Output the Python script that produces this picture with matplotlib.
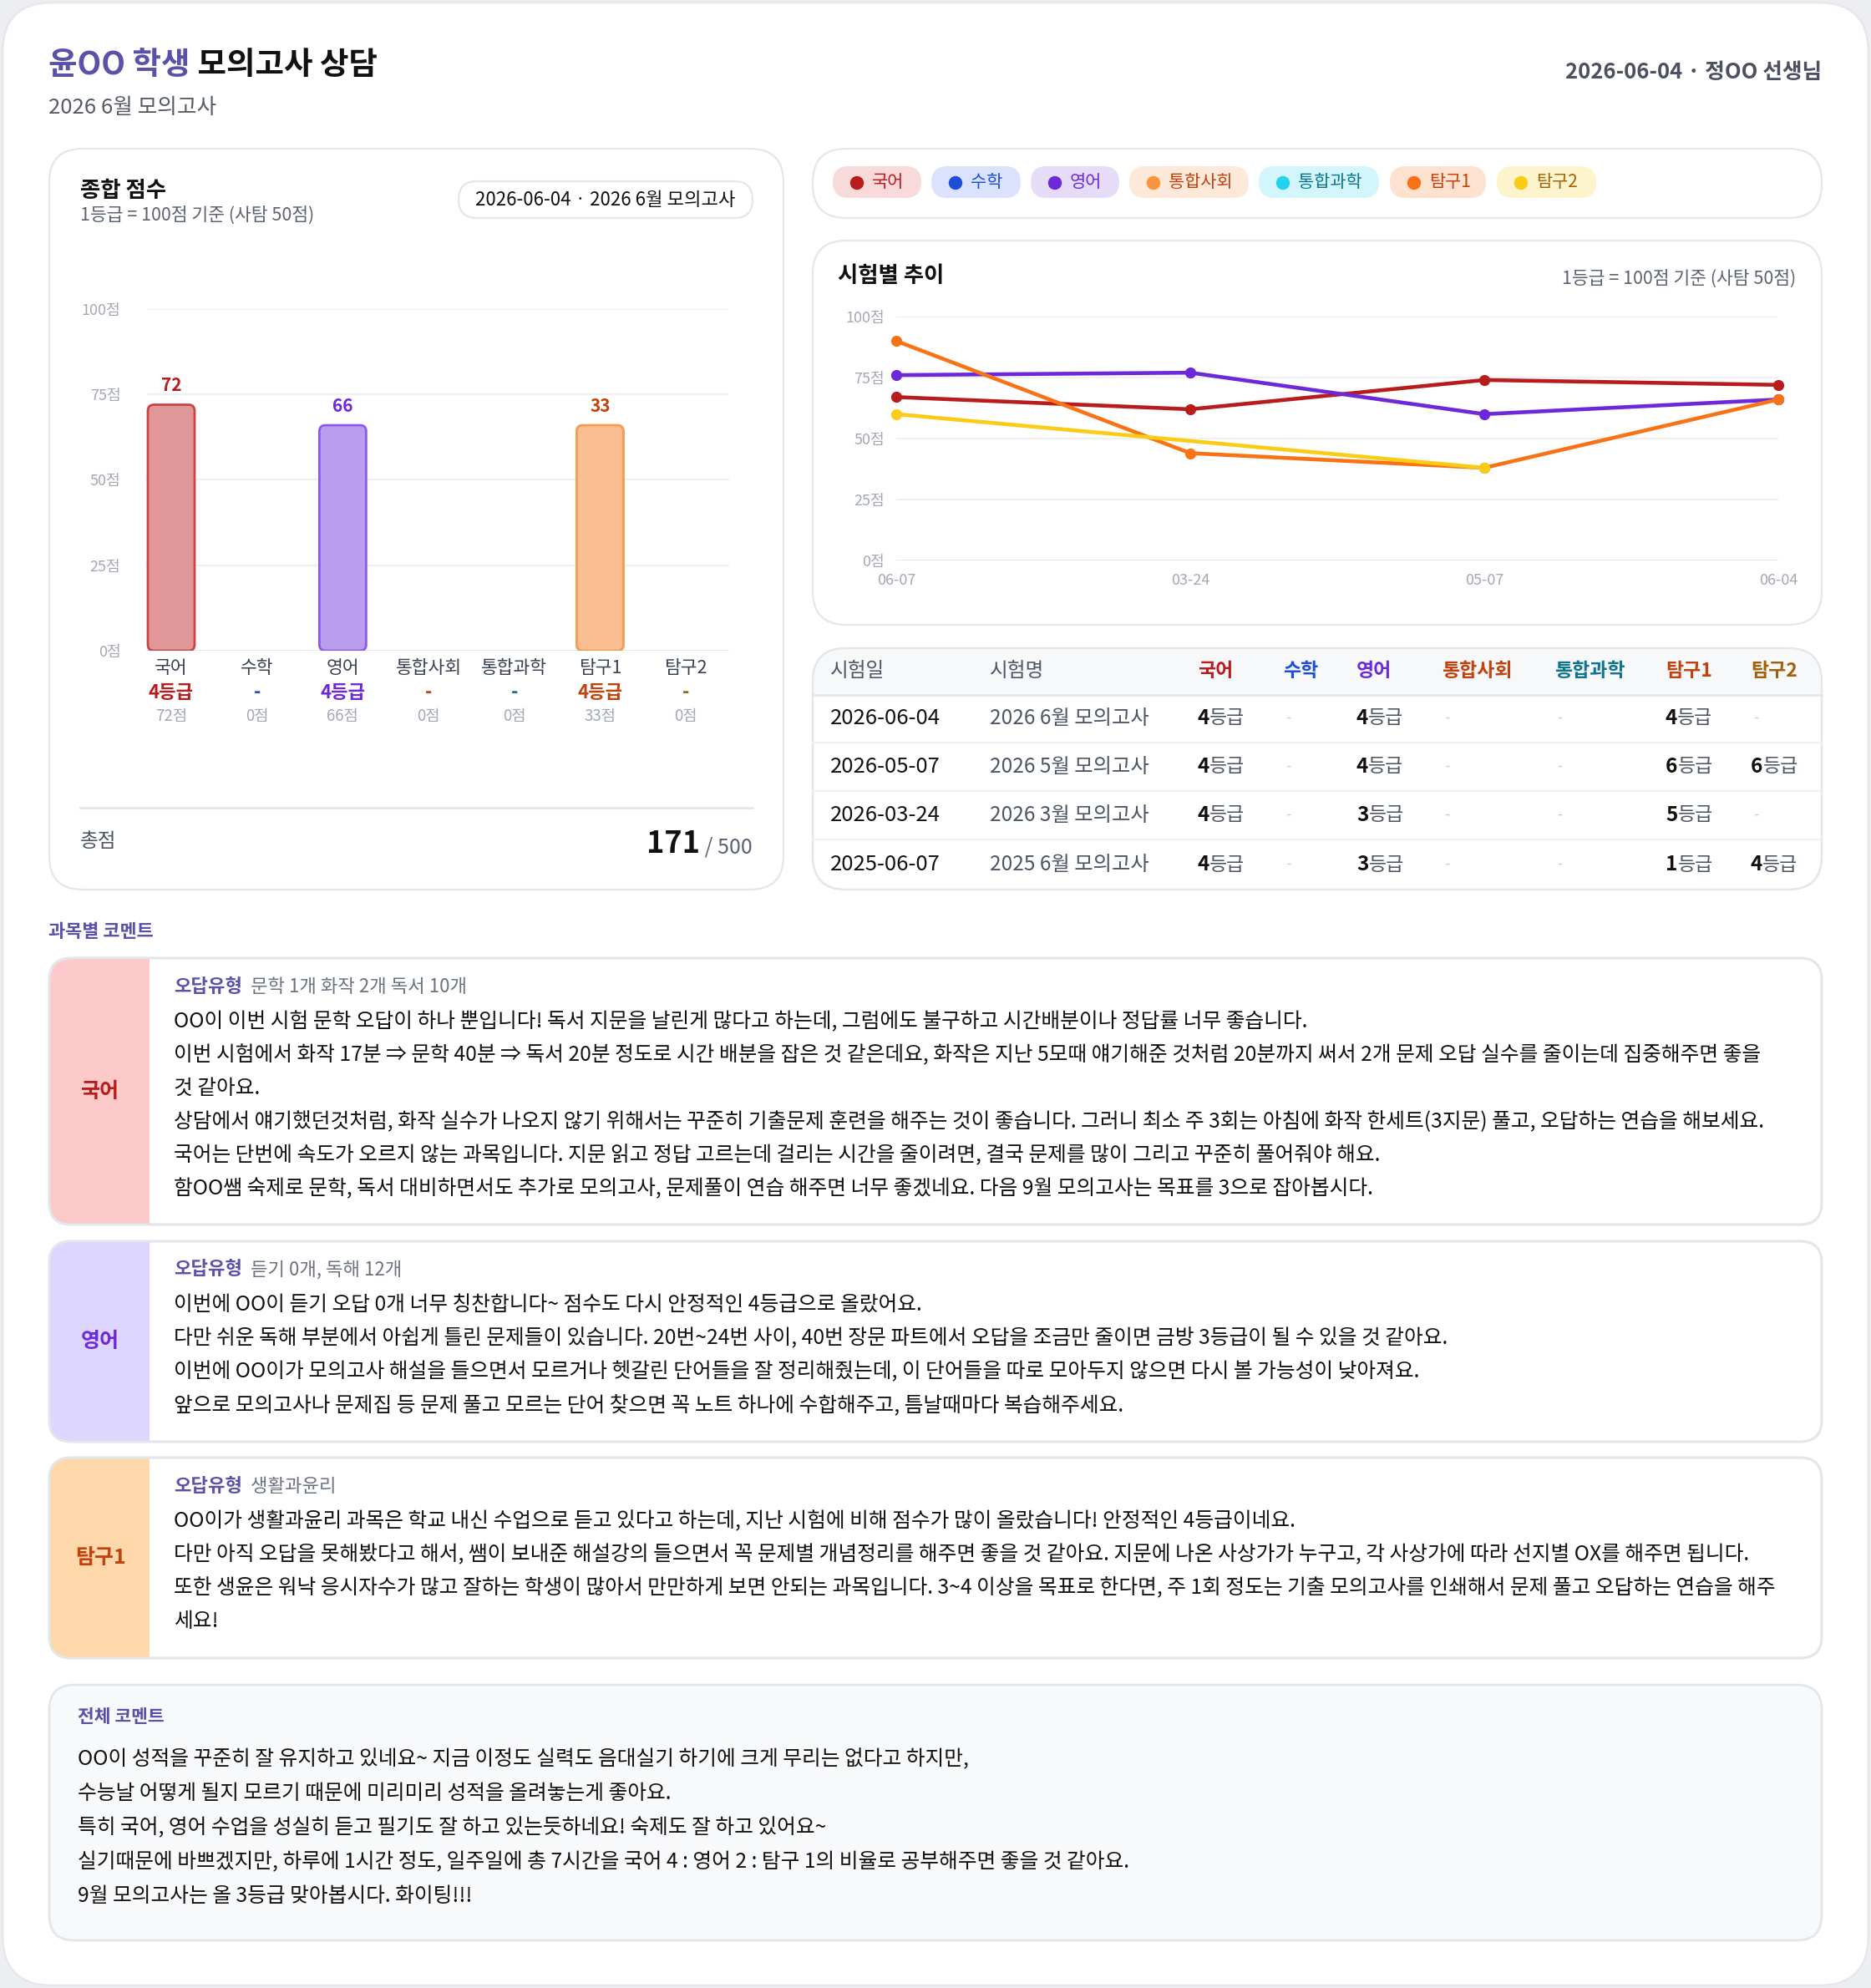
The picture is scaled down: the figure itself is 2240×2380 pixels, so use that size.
import matplotlib
matplotlib.use("Agg")
import matplotlib.pyplot as plt
import matplotlib.transforms as mtransforms
from matplotlib.patches import FancyBboxPatch, Rectangle, Circle

plt.rcParams['font.family'] = ['Noto Sans CJK KR', 'DejaVu Sans']

W, H = 2240, 2380

# ---- data ----
subjects = ['국어', '수학', '영어', '통합사회', '통합과학', '탐구1', '탐구2']
scores = [72, 0, 66, 0, 0, 33, 0]
full_marks = [100, 100, 100, 50, 50, 50, 50]
grades = ['4등급', '-', '4등급', '-', '-', '4등급', '-']
total_score = 171
total_max = 500

subj_color = ['#b91c1c', '#1d4ed8', '#6d28d9', '#c2410c', '#0e7490', '#c2410c', '#a16207']
dot_color = ['#b91c1c', '#1d4ed8', '#6d28d9', '#fb923c', '#22d3ee', '#f97316', '#facc15']
chip_bg = ['#f8dada', '#dae3fb', '#e6dcf8', '#fde9da', '#d2f6fb', '#fde2cf', '#fdf3cd']
bar_fill = ['#df9797', '#9db4f0', '#bb9ded', '#f9bf93', '#9fe3ee', '#f9bf93', '#fbe08a']
bar_edge = ['#c94545', '#3b64d8', '#8d5be8', '#f29552', '#22b8d0', '#f59a4f', '#e0b000']

trend_dates = ['06-07', '03-24', '05-07', '06-04']
trend_kor = [67, 62, 74, 72]
trend_eng = [76, 77, 60, 66]
trend_tam1 = [90, 44, 38, 66]
trend_tam2 = [60, None, 38, None]

table_dates = ['2026-06-04', '2026-05-07', '2026-03-24', '2025-06-07']
table_names = ['2026 6월 모의고사', '2026 5월 모의고사', '2026 3월 모의고사', '2025 6월 모의고사']
table_grades = [
    ['4', '-', '4', '-', '-', '4', '-'],
    ['4', '-', '4', '-', '-', '6', '6'],
    ['4', '-', '3', '-', '-', '5', '-'],
    ['4', '-', '3', '-', '-', '1', '4'],
]

kor_type = '문학 1개 화작 2개 독서 10개'
kor_lines = [
    'OO이 이번 시험 문학 오답이 하나 뿐입니다! 독서 지문을 날린게 많다고 하는데, 그럼에도 불구하고 시간배분이나 정답률 너무 좋습니다.',
    '이번 시험에서 화작 17분 ⇒ 문학 40분 ⇒ 독서 20분 정도로 시간 배분을 잡은 것 같은데요, 화작은 지난 5모때 얘기해준 것처럼 20분까지 써서 2개 문제 오답 실수를 줄이는데 집중해주면 좋을',
    '것 같아요.',
    '상담에서 얘기했던것처럼, 화작 실수가 나오지 않기 위해서는 꾸준히 기출문제 훈련을 해주는 것이 좋습니다. 그러니 최소 주 3회는 아침에 화작 한세트(3지문) 풀고, 오답하는 연습을 해보세요.',
    '국어는 단번에 속도가 오르지 않는 과목입니다. 지문 읽고 정답 고르는데 걸리는 시간을 줄이려면, 결국 문제를 많이 그리고 꾸준히 풀어줘야 해요.',
    '함OO쌤 숙제로 문학, 독서 대비하면서도 추가로 모의고사, 문제풀이 연습 해주면 너무 좋겠네요. 다음 9월 모의고사는 목표를 3으로 잡아봅시다.',
]
eng_type = '듣기 0개, 독해 12개'
eng_lines = [
    '이번에 OO이 듣기 오답 0개 너무 칭찬합니다~ 점수도 다시 안정적인 4등급으로 올랐어요.',
    '다만 쉬운 독해 부분에서 아쉽게 틀린 문제들이 있습니다. 20번~24번 사이, 40번 장문 파트에서 오답을 조금만 줄이면 금방 3등급이 될 수 있을 것 같아요.',
    '이번에 OO이가 모의고사 해설을 들으면서 모르거나 헷갈린 단어들을 잘 정리해줬는데, 이 단어들을 따로 모아두지 않으면 다시 볼 가능성이 낮아져요.',
    '앞으로 모의고사나 문제집 등 문제 풀고 모르는 단어 찾으면 꼭 노트 하나에 수합해주고, 틈날때마다 복습해주세요.',
]
tam_type = '생활과윤리'
tam_lines = [
    'OO이가 생활과윤리 과목은 학교 내신 수업으로 듣고 있다고 하는데, 지난 시험에 비해 점수가 많이 올랐습니다! 안정적인 4등급이네요.',
    '다만 아직 오답을 못해봤다고 해서, 쌤이 보내준 해설강의 들으면서 꼭 문제별 개념정리를 해주면 좋을 것 같아요. 지문에 나온 사상가가 누구고, 각 사상가에 따라 선지별 OX를 해주면 됩니다.',
    '또한 생윤은 워낙 응시자수가 많고 잘하는 학생이 많아서 만만하게 보면 안되는 과목입니다. 3~4 이상을 목표로 한다면, 주 1회 정도는 기출 모의고사를 인쇄해서 문제 풀고 오답하는 연습을 해주',
    '세요!',
]
overall_lines = [
    'OO이 성적을 꾸준히 잘 유지하고 있네요~ 지금 이정도 실력도 음대실기 하기에 크게 무리는 없다고 하지만,',
    '수능날 어떻게 될지 모르기 때문에 미리미리 성적을 올려놓는게 좋아요.',
    '특히 국어, 영어 수업을 성실히 듣고 필기도 잘 하고 있는듯하네요! 숙제도 잘 하고 있어요~',
    '실기때문에 바쁘겠지만, 하루에 1시간 정도, 일주일에 총 7시간을 국어 4 : 영어 2 : 탐구 1의 비율로 공부해주면 좋을 것 같아요.',
    '9월 모의고사는 올 3등급 맞아봅시다. 화이팅!!!',
]

PURPLE = '#5a52a8'
GRID = '#eef0f3'
TICK = '#a3a8b3'
BORDER = '#e3e6eb'
BODY = 17.8

fig = plt.figure(figsize=(W / 100, H / 100), dpi=100, facecolor='#eceef1')
bg = fig.add_axes([0, 0, 1, 1])
bg.set_xlim(0, W)
bg.set_ylim(H, 0)
bg.axis('off')
R = fig.canvas.get_renderer()


def frac(x0, y0, x1, y1):
    return [x0 / W, 1 - y1 / H, (x1 - x0) / W, (y1 - y0) / H]


def card(x0, y0, x1, y1, r=36, fc='white', ec=BORDER, lw=1.6, z=1):
    p = FancyBboxPatch((x0, y0), x1 - x0, y1 - y0, boxstyle=f'round,pad=0,rounding_size={r}',
                       fc=fc, ec=ec, lw=lw, zorder=z)
    bg.add_patch(p)
    return p


def run(x, y, parts, va='center', gap=0):
    # parts: (text, size, color, weight)
    for s, size, c, w in parts:
        t = bg.text(x, y, s, fontsize=size, color=c, fontweight=w, va=va, ha='left', zorder=5)
        x = t.get_window_extent(R).x1 + gap
    return x


# outer page card
card(3, 3, W - 3, H - 3, r=60, fc='white', ec='#e6e8ec', lw=2, z=0)

# ---- header ----
run(58, 77, [('윤OO 학생', 27, PURPLE, 'bold'), (' 모의고사 상담', 27, '#111111', 'bold')])
bg.text(58, 129, '2026 6월 모의고사', fontsize=18.5, color='#555b66', va='center')
bg.text(2181, 86, '2026-06-04 · 정OO 선생님', fontsize=18.5, color='#4b5160', fontweight='bold',
        va='center', ha='right')

# ---- 종합 점수 card ----
card(59, 178, 938, 1065, r=40)
bg.text(96, 229, '종합 점수', fontsize=19, color='#111111', fontweight='bold', va='center')
bg.text(96, 258, '1등급 = 100점 기준 (사탐 50점)', fontsize=15.5, color='#5b6270', va='center')
card(549, 217, 901, 261, r=22, ec=BORDER, lw=1.6)
bg.text(725, 239, '2026-06-04 · 2026 6월 모의고사', fontsize=16, color='#111111', va='center', ha='center')

ax1 = fig.add_axes(frac(175, 370, 873, 779))
ax1.set_xlim(-0.292, 6.505)
ax1.set_ylim(0, 100)
for v in [25, 50, 75, 100]:
    ax1.axhline(v, color=GRID, lw=1.6, zorder=0)
ax1.axhline(0, color='#e3e6eb', lw=2, zorder=0)
for s in ax1.spines.values():
    s.set_visible(False)
ax1.set_xticks([])
ax1.set_yticks([0, 25, 50, 75, 100])
ax1.set_yticklabels(['0점', '25점', '50점', '75점', '100점'])
ax1.tick_params(axis='y', length=0, pad=22, labelsize=13, labelcolor=TICK)
ax1.patch.set_alpha(0)

bw = 0.545
xmix = mtransforms.blended_transform_factory(ax1.transData, bg.transData)
for i, s in enumerate(subjects):
    h = scores[i] / full_marks[i] * 100
    if scores[i] > 0:
        bar = FancyBboxPatch((i - bw / 2, 0), bw, h, boxstyle='round,pad=0,rounding_size=0.07',
                             mutation_aspect=25, fc=bar_fill[i], ec=bar_edge[i], lw=2, zorder=3)
        ax1.add_patch(bar)
        ax1.annotate(str(scores[i]), (i, h), xytext=(0, 9), textcoords='offset points',
                     ha='center', va='bottom', fontsize=15, color=subj_color[i], fontweight='bold')
    bg.text(i, 800, s, transform=xmix, ha='center', va='center', fontsize=15.5, color='#374151')
    bg.text(i, 829, grades[i], transform=xmix, ha='center', va='center', fontsize=16,
            color=subj_color[i], fontweight='bold')
    bg.text(i, 857, f'{scores[i]}점', transform=xmix, ha='center', va='center', fontsize=13.5, color=TICK)

bg.plot([96, 901], [967, 967], color='#e3e6eb', lw=2)
bg.text(96, 1007, '총점', fontsize=17, color='#4b5563', va='center')
t_max = bg.text(901, 1021, f' / {total_max}', fontsize=18, color='#5b6270', va='baseline', ha='right')
bx = t_max.get_window_extent(R).x0
bg.text(bx, 1021, str(total_score), fontsize=26, color='#111111', fontweight='bold', va='baseline', ha='right')

# ---- legend chips ----
card(973, 178, 2181, 261, r=40)
chip_x = [(997, 1103), (1115, 1222), (1234, 1340), (1352, 1495), (1507, 1651), (1664, 1779), (1792, 1911)]
for i, s in enumerate(subjects):
    x0, x1 = chip_x[i]
    card(x0, 199, x1, 237, r=19, fc=chip_bg[i], ec='none', lw=0, z=2)
    bg.add_patch(Circle((x0 + 29, 219), 7.5, color=dot_color[i], zorder=3))
    bg.text(x0 + 47, 218, s, fontsize=15, color=subj_color[i], va='center', zorder=4)

# ---- 시험별 추이 card ----
card(973, 288, 2181, 748, r=40)
bg.text(1003, 331, '시험별 추이', fontsize=19, color='#111111', fontweight='bold', va='center')
bg.text(2150, 334, '1등급 = 100점 기준 (사탐 50점)', fontsize=15.5, color='#5b6270', va='center', ha='right')

ax2 = fig.add_axes(frac(1073, 379, 2129, 671))
ax2.set_xlim(0, 3)
ax2.set_ylim(0, 100)
for v in [25, 50, 75, 100]:
    ax2.axhline(v, color=GRID, lw=1.6, zorder=0)
ax2.axhline(0, color='#e3e6eb', lw=2, zorder=0)
for s in ax2.spines.values():
    s.set_visible(False)
ax2.set_xticks(range(4))
ax2.set_xticklabels(trend_dates)
ax2.set_yticks([0, 25, 50, 75, 100])
ax2.set_yticklabels(['0점', '25점', '50점', '75점', '100점'])
ax2.tick_params(length=0, labelsize=13, labelcolor=TICK)
ax2.tick_params(axis='y', pad=10)
ax2.tick_params(axis='x', pad=11)
ax2.patch.set_alpha(0)

series = [(trend_kor, '#b91c1c'), (trend_eng, '#6d28d9'), (trend_tam1, '#f97316'), (trend_tam2, '#facc15')]
for vals, c in series:
    xs = [i for i, v in enumerate(vals) if v is not None]
    ys = [v for v in vals if v is not None]
    ax2.plot(xs, ys, color=c, lw=3.3, marker='o', ms=8.5, clip_on=False, solid_capstyle='round')

# ---- grade table ----
tcard = card(973, 776, 2181, 1065, r=40)
head = Rectangle((973, 776), 1208, 56, fc='#f7f8fa', ec='none', zorder=1.5)
head.set_clip_path(tcard)
bg.add_patch(head)
card(973, 776, 2181, 1065, r=40, fc='none', z=2)
bg.plot([973, 2181], [832, 832], color='#e5e7eb', lw=2, zorder=3)
for yl in [889, 947, 1005]:
    bg.plot([973, 2181], [yl, yl], color='#eef0f3', lw=1.6, zorder=3)

col_x = [1434, 1536, 1624, 1726, 1861, 1994, 2096]
bg.text(994, 803, '시험일', fontsize=17, color='#4b5563', va='center')
bg.text(1185, 803, '시험명', fontsize=17, color='#4b5563', va='center')
for j, s in enumerate(subjects):
    bg.text(col_x[j], 803, s, fontsize=16.5, color=subj_color[j], fontweight='bold', va='center')

row_y = [860, 918, 976, 1035]
for r_i, yy in enumerate(row_y):
    bg.text(994, yy, table_dates[r_i], fontsize=18.5, color='#111111', va='center')
    bg.text(1185, yy, table_names[r_i], fontsize=17.5, color='#4b5563', va='center')
    for j, g in enumerate(table_grades[r_i]):
        if g == '-':
            bg.text(col_x[j] + 3, yy, '-', fontsize=13, color='#c7cbd3', va='center')
        else:
            run(col_x[j], yy, [(g, 17.5, '#111111', 'bold'), ('등급', 16.5, '#4b5563', 'normal')])

# ---- 과목별 코멘트 ----
bg.text(58, 1115, '과목별 코멘트', fontsize=15.8, color=PURPLE, fontweight='bold', va='center')

comment_blocks = [
    (1147, 1466, '국어', '#b91c1c', '#fdcaca', kor_type, kor_lines),
    (1486, 1726, '영어', '#6d28d9', '#ddd6fe', eng_type, eng_lines),
    (1745, 1985, '탐구1', '#c2410c', '#fed7aa', tam_type, tam_lines),
]
for y0, y1, name, col, pcol, typ, lines in comment_blocks:
    cp = card(59, y0, 2181, y1, r=26, lw=2)
    panel = Rectangle((59, y0), 120, y1 - y0, fc=pcol, ec='none', zorder=1.5)
    panel.set_clip_path(cp)
    bg.add_patch(panel)
    card(59, y0, 2181, y1, r=26, fc='none', lw=2, z=2)
    bg.text(120, (y0 + y1) / 2, name, fontsize=18, color=col, fontweight='bold', va='center', ha='center', zorder=4)
    run(208, y0 + 34, [('오답유형', 16, PURPLE, 'bold'), ('  ' + typ, 16, '#6b7280', 'normal')])
    for k, line in enumerate(lines):
        bg.text(208, y0 + 76 + k * 40, line, fontsize=BODY, color='#111111', va='center', zorder=4)

# ---- 전체 코멘트 ----
card(59, 2017, 2181, 2323, r=30, fc='#f8f9fb', lw=2)
bg.text(93, 2056, '전체 코멘트', fontsize=15.5, color=PURPLE, fontweight='bold', va='center')
for k, line in enumerate(overall_lines):
    bg.text(93, 2106 + k * 41, line, fontsize=BODY, color='#111111', va='center')

fig.savefig('out.png', dpi=100, facecolor=fig.get_facecolor())
